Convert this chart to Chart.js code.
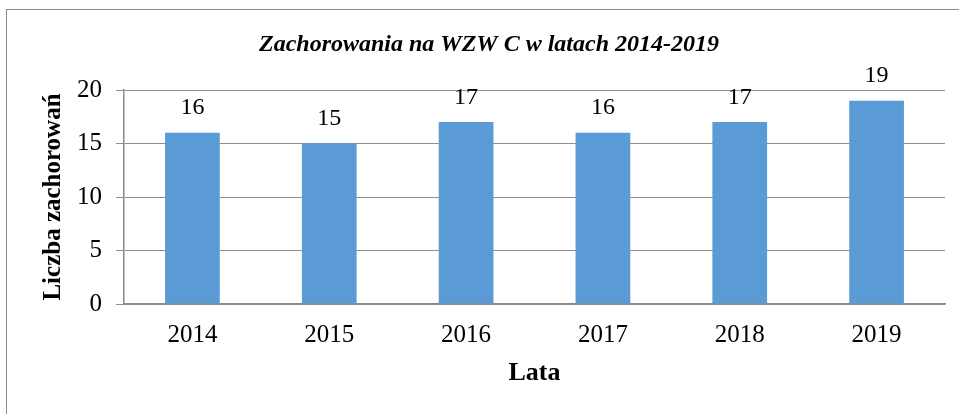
<!DOCTYPE html>
<html>
<head>
<meta charset="utf-8">
<script src="https://cdn.jsdelivr.net/npm/chart.js@4.4.1/dist/chart.umd.min.js"></script>
<style>
html,body{margin:0;padding:0;background:#fff;}
#wrap{width:959px;height:414px;position:relative;}
</style>
</head>
<body>
<div id="wrap"><canvas id="c" width="959" height="414"></canvas></div>
<script>
const categories = ["2014", "2015", "2016", "2017", "2018", "2019"];
const cases = [16, 15, 17, 16, 17, 19];
const yTicks = [0, 5, 10, 15, 20];
const chartTitle = "Zachorowania na WZW C w latach 2014-2019";
const yTitle = "Liczba zachorowań";
const xTitle = "Lata";

const FONT = "'Liberation Serif', 'Times New Roman', serif";

const framePlugin = {
  id: 'frame',
  beforeDraw(chart) {
    const ctx = chart.ctx;
    ctx.save();
    ctx.fillStyle = '#fff';
    ctx.fillRect(0, 0, chart.width, chart.height);
    ctx.strokeStyle = '#8a8a8a';
    ctx.lineWidth = 1;
    ctx.strokeRect(6.5, 9.5, 970, 430);
    ctx.restore();
  }
};

const valueLabels = {
  id: 'valueLabels',
  afterDatasetsDraw(chart) {
    const ctx = chart.ctx;
    const meta = chart.getDatasetMeta(0);
    ctx.save();
    ctx.font = "24px " + FONT;
    ctx.fillStyle = '#000';
    ctx.textAlign = 'center';
    ctx.textBaseline = 'alphabetic';
    meta.data.forEach((bar, i) => {
      ctx.fillText(String(chart.data.datasets[0].data[i]), bar.x, bar.y - 18.5);
    });
    ctx.restore();
  }
};

new Chart(document.getElementById('c'), {
  type: 'bar',
  data: {
    labels: categories,
    datasets: [{
      data: cases,
      backgroundColor: '#5B9BD5',
      borderWidth: 0,
      barPercentage: 0.4,
      categoryPercentage: 1.0
    }]
  },
  options: {
    responsive: false,
    animation: false,
    devicePixelRatio: 1,
    layout: { padding: { left: 33, right: 14, top: 0, bottom: 0 } },
    plugins: {
      legend: { display: false },
      tooltip: { enabled: false },
      title: {
        display: true,
        text: chartTitle,
        color: '#000',
        font: { family: FONT, size: 24, weight: 'bold', style: 'italic', lineHeight: 1.2 },
        padding: { top: 30, bottom: 31.2 }
      }
    },
    scales: {
      x: {
        grid: { display: false, drawTicks: false },
        border: { display: true, color: '#8a8a8a', width: 1.5 },
        ticks: { color: '#000', font: { family: FONT, size: 25 }, padding: 16, maxRotation: 0 },
        title: {
          display: true, text: xTitle, color: '#000',
          font: { family: FONT, size: 26, weight: 'bold', lineHeight: 1.2 },
          padding: { top: 0, bottom: 25.4 }
        },
        afterFit(scale) { scale.height = 110; }
      },
      y: {
        min: 0, max: 20,
        afterBuildTicks(scale) { scale.ticks = yTicks.map(v => ({ value: v })); },
        grid: { color: '#8f8f8f', lineWidth: 1, drawTicks: true, tickLength: 8 },
        border: { display: true, color: '#8a8a8a', width: 1.5 },
        ticks: { color: '#000', font: { family: FONT, size: 25 }, padding: 14 },
        title: {
          display: true, text: yTitle, color: '#000',
          font: { family: FONT, size: 25, weight: 'bold', lineHeight: 1.2 },
          padding: { top: 6, bottom: 0 }
        },
        afterFit(scale) { scale.width = 91; }
      }
    }
  },
  plugins: [framePlugin, valueLabels]
});
</script>
</body>
</html>
